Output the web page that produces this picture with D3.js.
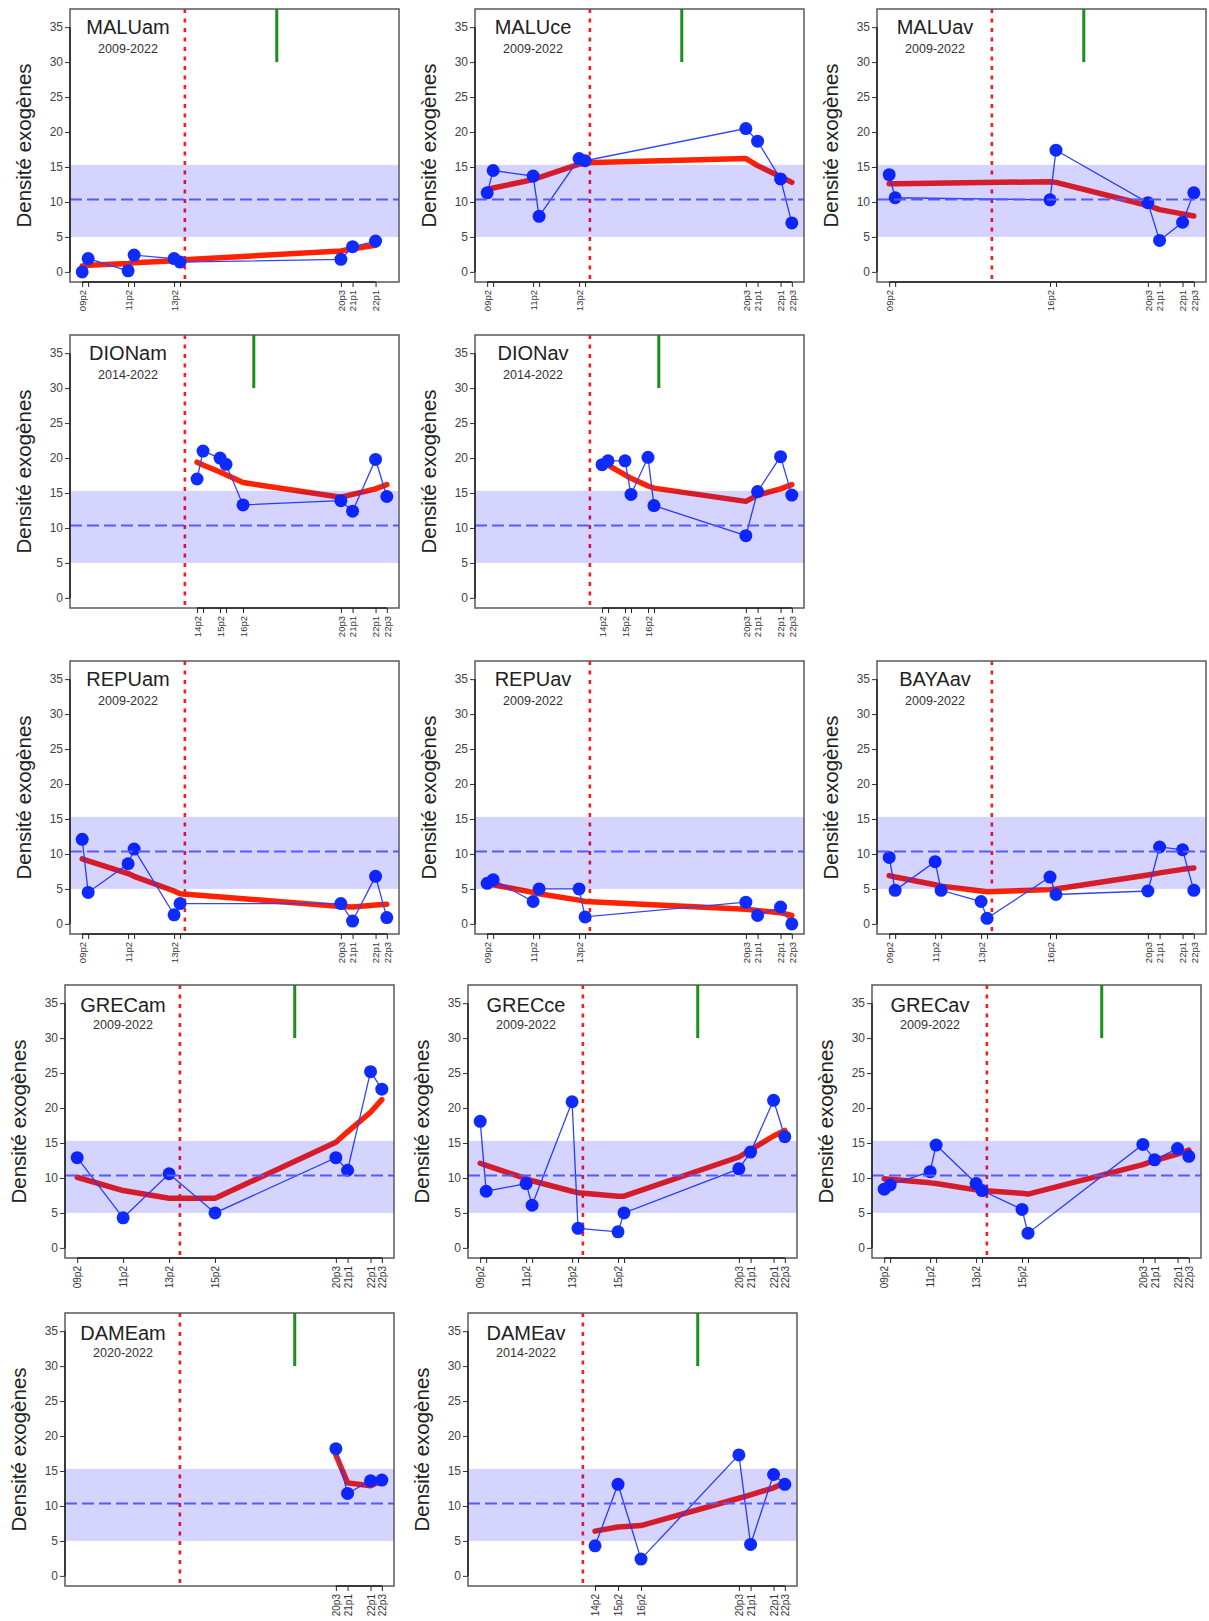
<!DOCTYPE html>
<html><head><meta charset="utf-8">
<script src="https://cdn.jsdelivr.net/npm/d3@7/dist/d3.min.js"></script>
<style>
body{margin:0;background:#fff}
svg{display:block}
text{font-family:"Liberation Sans",Arial,Helvetica,sans-serif}
</style>
</head><body>
<svg id="chart" width="1209" height="1621"></svg>
<script>
// ---------------- DATA ----------------
const PERIOD_OFFSET = {p1: 0.30, p2: 0.53, p3: 0.79};   // position of each sampling pass within a year
const FIRST_DATE = "09p2", LAST_DATE = "22p3";          // common x range of all panels
const Y_MAX = 36.15;
const Y_TICKS = [0, 5, 10, 15, 20, 25, 30, 35];
const REF_LOW = 5.0, REF_HIGH = 15.3, REF_MEAN = 10.35;  // reference band and its mean
const BREAK_YEAR = 2014.0;                              // red dotted line
const WORKS_MARK_LOW = 30;                              // green mark goes from the top down to this value
const Y_LABEL = "Densité exogènes";

const siteNames = ["MALUam","MALUce","MALUav","DIONam","DIONav","REPUam","REPUav","BAYAav","GRECam","GRECce","GRECav","DAMEam","DAMEav"];
const sitePeriods = ["2009-2022","2009-2022","2009-2022","2014-2022","2014-2022","2009-2022","2009-2022","2009-2022","2009-2022","2009-2022","2009-2022","2020-2022","2014-2022"];
const worksYear = [2018, 2018, 2018, 2017, 2017, null, null, null, 2019, 2019, 2019, 2019, 2019];

const MALUam_ticks = ["09p2","09p3","11p2","11p3","13p2","13p3","20p3","21p1","22p1"];
const MALUam_dens  = [0.0, 1.9, 0.15, 2.4, 1.9, 1.4, 1.8, 3.6, 4.4];
const MALUam_trend = [0.85, 0.95, 1.2, 1.3, 1.6, 1.7, 3.0, 3.3, 3.8];

const MALUce_ticks = ["09p2","09p3","11p2","11p3","13p2","13p3","20p3","21p1","22p1","22p3"];
const MALUce_dens  = [11.3, 14.5, 13.7, 7.95, 16.2, 15.9, 20.5, 18.7, 13.3, 7.0];
const MALUce_trend = [11.8, 12.0, 13.2, 13.5, 15.4, 15.6, 16.2, 15.2, 13.6, 12.8];

const MALUav_ticks = ["09p2","09p3","16p2","16p3","20p3","21p1","22p1","22p3"];
const MALUav_dens  = [13.9, 10.6, 10.3, 17.4, 9.9, 4.5, 7.1, 11.3];
const MALUav_trend = [12.6, 12.6, 12.9, 12.8, 9.5, 8.9, 8.3, 8.0];

const DIONam_ticks = ["14p2","14p3","15p2","15p3","16p2","20p3","21p1","22p1","22p3"];
const DIONam_dens  = [17.0, 21.0, 20.0, 19.1, 13.3, 13.9, 12.4, 19.8, 14.5];
const DIONam_trend = [19.4, 19.0, 18.0, 17.6, 16.5, 14.4, 14.8, 15.6, 16.2];

const DIONav_ticks = ["14p2","14p3","15p2","15p3","16p2","16p3","20p3","21p1","22p1","22p3"];
const DIONav_dens  = [19.05, 19.6, 19.6, 14.8, 20.1, 13.2, 8.9, 15.2, 20.2, 14.7];
const DIONav_trend = [19.3, 19.0, 17.6, 17.1, 16.0, 15.7, 13.8, 14.7, 15.6, 16.2];

const REPUam_ticks = ["09p2","09p3","11p2","11p3","13p2","13p3","20p3","21p1","22p1","22p3"];
const REPUam_dens  = [12.1, 4.5, 8.6, 10.7, 1.3, 2.9, 2.9, 0.4, 6.8, 0.9];
const REPUam_trend = [9.3, 9.0, 7.2, 6.8, 4.7, 4.3, 2.5, 2.4, 2.7, 2.8];

const REPUav_ticks = ["09p2","09p3","11p2","11p3","13p2","13p3","20p3","21p1","22p1","22p3"];
const REPUav_dens  = [5.8, 6.3, 3.2, 5.0, 5.0, 1.0, 3.1, 1.2, 2.4, 0.0];
const REPUav_trend = [5.8, 5.6, 4.5, 4.3, 3.4, 3.2, 2.1, 1.9, 1.6, 1.2];

const BAYAav_ticks = ["09p2","09p3","11p2","11p3","13p2","13p3","16p2","16p3","20p3","21p1","22p1","22p3"];
const BAYAav_dens  = [9.5, 4.8, 8.9, 4.8, 3.2, 0.8, 6.7, 4.2, 4.7, 11.0, 10.6, 4.8];
const BAYAav_trend = [6.9, 6.7, 5.6, 5.4, 4.7, 4.6, 4.9, 5.0, 7.0, 7.3, 7.8, 8.0];

const GRECam_ticks = ["09p2","11p2","13p2","15p2","20p3","21p1","22p1","22p3"];
const GRECam_dens  = [12.9, 4.3, 10.6, 5.0, 12.9, 11.1, 25.2, 22.7];
const GRECam_trend = [10.1, 8.2, 7.1, 7.1, 15.1, 16.6, 19.4, 21.2];

const GRECce_ticks = ["09p2","09p3","11p2","11p3","13p2","13p3","15p2","15p3","20p3","21p1","22p1","22p3"];
const GRECce_dens  = [18.1, 8.1, 9.2, 6.1, 20.9, 2.8, 2.3, 5.0, 11.3, 13.7, 21.1, 15.9];
const GRECce_trend = [12.1, 11.8, 9.9, 9.6, 8.1, 7.9, 7.4, 7.4, 13.0, 14.0, 16.0, 16.8];

const GRECav_ticks = ["09p2","09p3","11p2","11p3","13p2","13p3","15p2","15p3","20p3","21p1","22p1","22p3"];
const GRECav_dens  = [8.4, 9.0, 10.9, 14.7, 9.2, 8.2, 5.5, 2.1, 14.8, 12.6, 14.2, 13.1];
const GRECav_trend = [9.9, 9.8, 9.3, 9.2, 8.3, 8.2, 7.8, 7.7, 11.9, 12.5, 13.4, 14.0];

const DAMEam_ticks = ["20p3","21p1","22p1","22p3"];
const DAMEam_dens  = [18.2, 11.8, 13.6, 13.7];
const DAMEam_trend = [17.3, 13.3, 12.9, 13.6];

const DAMEav_ticks = ["14p2","15p2","16p2","20p3","21p1","22p1","22p3"];
const DAMEav_dens  = [4.3, 13.1, 2.4, 17.3, 4.5, 14.5, 13.1];
const DAMEav_trend = [6.4, 7.0, 7.2, 11.1, 11.6, 12.6, 13.3];

const siteTicks = [MALUam_ticks, MALUce_ticks, MALUav_ticks, DIONam_ticks, DIONav_ticks, REPUam_ticks, REPUav_ticks, BAYAav_ticks, GRECam_ticks, GRECce_ticks, GRECav_ticks, DAMEam_ticks, DAMEav_ticks];
const siteDens  = [MALUam_dens, MALUce_dens, MALUav_dens, DIONam_dens, DIONav_dens, REPUam_dens, REPUav_dens, BAYAav_dens, GRECam_dens, GRECce_dens, GRECav_dens, DAMEam_dens, DAMEav_dens];
const siteTrend = [MALUam_trend, MALUce_trend, MALUav_trend, DIONam_trend, DIONav_trend, REPUam_trend, REPUav_trend, BAYAav_trend, GRECam_trend, GRECce_trend, GRECav_trend, DAMEam_trend, DAMEav_trend];

// ---------------- LAYOUT ----------------
const ROW_TOP = [9, 335, 661, 985, 1313];
const ROW_LEFTS = [[70, 475, 877], [70, 475, 877], [70, 475, 877], [65, 468, 872], [65, 468, 872]];
const SLOT = [[0,0],[0,1],[0,2],[1,0],[1,1],[2,0],[2,1],[2,2],[3,0],[3,1],[3,2],[4,0],[4,1]];
const W = 329, H = 273;

// ---------------- DRAW ----------------
const dateOf = lbl => 2000 + (+lbl.slice(0, 2)) + PERIOD_OFFSET[lbl.slice(2)];
const d0 = dateOf(FIRST_DATE), d1 = dateOf(LAST_DATE);
const xPad = 0.04 * (d1 - d0), yPad = 0.04 * Y_MAX;
const x = d3.scaleLinear().domain([d0 - xPad, d1 + xPad]).range([0, W]);
const y = d3.scaleLinear().domain([-yPad, Y_MAX + yPad]).range([H, 0]);

const svg = d3.select("#chart");

siteNames.forEach((name, i) => {
  const [r, c] = SLOT[i];
  const sharp = r >= 3;
  const g = svg.append("g").attr("transform", `translate(${ROW_LEFTS[r][c]},${ROW_TOP[r]})`);
  const pts = siteTicks[i].map((t, k) => ({t, d: dateOf(t), v: siteDens[i][k], tr: siteTrend[i][k]}));

  // red dotted break line
  g.append("line")
    .attr("x1", x(BREAK_YEAR)).attr("x2", x(BREAK_YEAR))
    .attr("y1", 0).attr("y2", H)
    .attr("stroke", "#ff1a1a").attr("stroke-width", 2.6)
    .attr("stroke-dasharray", "4,5.5");

  // green works mark
  if (worksYear[i] != null) {
    g.append("line")
      .attr("x1", x(worksYear[i])).attr("x2", x(worksYear[i]))
      .attr("y1", 0).attr("y2", y(WORKS_MARK_LOW))
      .attr("stroke", "#1b8f1b").attr("stroke-width", 3);
  }

  // trend line
  g.append("path").datum(pts)
    .attr("d", d3.line().x(d => x(d.d)).y(d => y(d.tr)))
    .attr("fill", "none").attr("stroke", "#ff2200")
    .attr("stroke-width", 5.5).attr("stroke-linejoin", "round").attr("stroke-linecap", "round");

  // observed series
  g.append("path").datum(pts)
    .attr("d", d3.line().x(d => x(d.d)).y(d => y(d.v)))
    .attr("fill", "none").attr("stroke", "#2f45ff").attr("stroke-width", 1.3);
  g.selectAll("circle.pt").data(pts).join("circle")
    .attr("class", "pt")
    .attr("cx", d => x(d.d)).attr("cy", d => y(d.v)).attr("r", 6.5)
    .attr("fill", "#0f2cff");

  // reference mean (dashed)
  g.append("line")
    .attr("x1", 0).attr("x2", W)
    .attr("y1", y(REF_MEAN)).attr("y2", y(REF_MEAN))
    .attr("stroke", "#6a6aff").attr("stroke-width", 2)
    .attr("stroke-dasharray", "12,5");

  // reference band (translucent, on top)
  g.append("rect")
    .attr("x", 0).attr("width", W)
    .attr("y", y(REF_HIGH)).attr("height", y(REF_LOW) - y(REF_HIGH))
    .attr("fill", "rgba(0,0,255,0.17)");

  // frame
  g.append("rect").attr("x", 0).attr("y", 0).attr("width", W).attr("height", H)
    .attr("fill", "none").attr("stroke", "#5a5a5a").attr("stroke-width", 1.5);

  // y axis
  const ya = g.append("g").call(d3.axisLeft(y).tickValues(Y_TICKS).tickSize(5).tickPadding(2));
  ya.select(".domain").remove();
  ya.selectAll("line").attr("stroke", "#333");
  ya.selectAll("text").attr("font-size", 12).attr("fill", "#444")
    .style("font-family", '"Liberation Sans", Arial, sans-serif');
  g.append("line").attr("x1", 0).attr("x2", 0)
    .attr("y1", y(Y_TICKS[0])).attr("y2", y(Y_TICKS[Y_TICKS.length - 1]))
    .attr("stroke", "#222").attr("stroke-width", 1.5);

  // x axis
  const xa = g.append("g").attr("transform", `translate(0,${H})`)
    .call(d3.axisBottom(x).tickValues(pts.map(p => p.d)).tickSize(5)
      .tickFormat((d, k) => pts[k].t));
  xa.select(".domain").remove();
  xa.selectAll("line").attr("stroke", "#222");
  let lastShown = -1e9;
  xa.selectAll("text")
    .attr("transform", "rotate(-90)")
    .attr("x", -8).attr("y", 0).attr("dy", "0.35em")
    .style("text-anchor", "end")
    .attr("font-size", sharp ? 10 : 9.5).attr("fill", "#333")
    .style("font-family", '"Liberation Sans", Arial, sans-serif')
    .each(function(d) {
      const px = x(d);
      if (px - lastShown < 9) d3.select(this).remove();
      else lastShown = px;
    });
  g.append("line")
    .attr("x1", x(pts[0].d)).attr("x2", x(pts[pts.length - 1].d))
    .attr("y1", H).attr("y2", H)
    .attr("stroke", "#222").attr("stroke-width", 1.5);

  // titles
  g.append("text").attr("x", 58).attr("y", sharp ? 27 : 25)
    .attr("text-anchor", "middle").attr("font-size", 20).attr("fill", "#222")
    .text(name);
  g.append("text").attr("x", 58).attr("y", 44)
    .attr("text-anchor", "middle").attr("font-size", 12.5).attr("fill", "#333")
    .text(sitePeriods[i]);

  // y label
  g.append("text")
    .attr("transform", `translate(${-39},${H / 2}) rotate(-90)`)
    .attr("text-anchor", "middle").attr("font-size", 20.5).attr("fill", "#222")
    .text(Y_LABEL);
});
</script>
</body></html>
